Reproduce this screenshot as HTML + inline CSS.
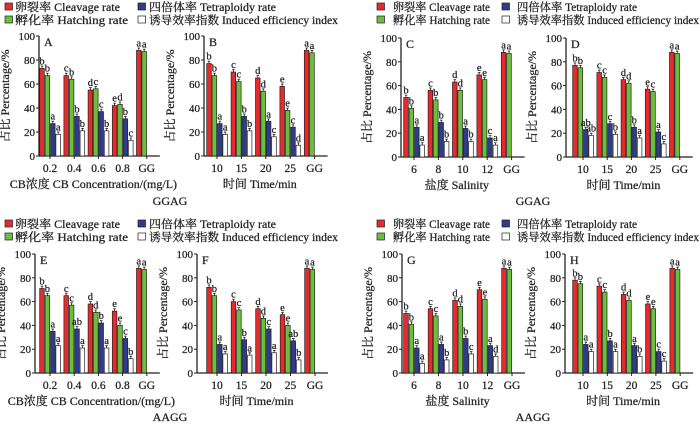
<!DOCTYPE html>
<html><head><meta charset="utf-8"><style>
body{margin:0;background:#fff}
svg{display:block;font-family:"Liberation Serif","Noto Serif CJK SC",serif}
svg text{stroke:#222;stroke-width:0.25px}
</style></head><body>
<svg id="fig" width="700" height="424" viewBox="0 0 700 424" xmlns="http://www.w3.org/2000/svg"></svg>
<script>
// ---- data ----
const seriesNames = ["卵裂率 Cleavage rate","孵化率 Hatching rate","四倍体率 Tetraploidy rate","诱导效率指数 Induced efficiency index"];
const catsCB = ["0.2","0.4","0.6","0.8","GG"];
const catsTime = ["10","15","20","25","GG"];
const catsSal = ["6","8","10","12","GG"];
const yTicks = [0,20,40,60,80,100];

const A_cleav=[73,67,55,42,88], A_hatch=[67,64,56,43,87], A_tetra=[27,33,37,31], A_iei=[18,21,21,13];
const B_cleav=[77,70,65,58,88], B_hatch=[67,62,54,38,86], B_tetra=[27,33,29,24], B_iei=[18,21,16,9];
const C_cleav=[50,56,63,69,88], C_hatch=[41,48,56,65,87], C_tetra=[25,29,24,16], C_iei=[10,13,13,10];
const D_cleav=[77,71,65,57,88], D_hatch=[75,67,62,55,87], D_tetra=[23,28,25,21], D_iei=[18,19,16,11];
const E_cleav=[71,65,58,52,88], E_hatch=[65,57,51,40,87], E_tetra=[35,37,42,29], E_iei=[23,21,21,12];
const F_cleav=[72,60,54,49,88], F_hatch=[65,53,46,40,87], F_tetra=[24,28,37,27], F_iei=[16,15,17,11];
const G_cleav=[50,54,61,70,88], G_hatch=[41,48,56,62,87], G_tetra=[21,24,29,23], G_iei=[8,11,16,14];
const H_cleav=[78,73,66,58,88], H_hatch=[75,68,61,54,87], H_tetra=[24,27,23,18], H_iei=[18,18,14,10];

const A_let=[["b","c","d","e","a"],["b","b","c","d","a"],["a","b","c","b"],["a","b","b","c"]];
const B_let=[["b","c","d","e","a"],["b","c","d","e","a"],["a","b","a","c"],["a","b","c","d"]];
const C_let=[["b","c","d","e","a"],["b","b","d","e","a"],["a","b","a","c"],["a","b","b","a"]];
const D_let=[["b","c","d","e","a"],["b","c","d","c","a"],["ab","c","b","a"],["ab","b","a","c"]];
const E_let=[["b","c","d","e","a"],["b","c","d","e","a"],["a","ab","b","c"],["a","a","a","b"]];
const F_let=[["b","c","d","e","a"],["b","c","d","e","a"],["a","b","c","ab"],["a","a","a","b"]];
const G_let=[["b","c","d","e","a"],["b","c","d","e","a"],["a","a","b","a"],["a","b","c","d"]];
const H_let=[["b","c","d","e","a"],["b","c","d","e","a"],["a","b","a","c"],["a","a","b","c"]];

const colors=["#e82a2c","#6cbf3c","#2f3c8e","#ffffff"];
const NS="http://www.w3.org/2000/svg";
const svg=document.getElementById("fig");
function mk(tag,attrs,parent){const e=document.createElementNS(NS,tag);for(const k in attrs)e.setAttribute(k,attrs[k]);(parent||svg).appendChild(e);return e;}
function txt(s,attrs,parent){const e=mk("text",attrs,parent);e.textContent=s;return e;}

const panels=[
 {id:"A",ax:39,c0:50,st:24.2,top:36,bot:156,cats:catsCB,xt:"CB浓度 CB Concentration/(mg/L)",s:[A_cleav,A_hatch,A_tetra,A_iei],l:A_let},
 {id:"B",ax:204,c0:217,st:24.4,top:36,bot:156,cats:catsTime,xt:"时间 Time/min",s:[B_cleav,B_hatch,B_tetra,B_iei],l:B_let},
 {id:"C",ax:401,c0:414,st:24.4,top:38,bot:157,cats:catsSal,xt:"盐度 Salinity",s:[C_cleav,C_hatch,C_tetra,C_iei],l:C_let},
 {id:"D",ax:566,c0:583,st:24.2,top:38,bot:157,cats:catsTime,xt:"时间 Time/min",s:[D_cleav,D_hatch,D_tetra,D_iei],l:D_let},
 {id:"E",ax:35,c0:50,st:24.2,top:254,bot:373,cats:catsCB,xt:"CB浓度 CB Concentration/(mg/L)",s:[E_cleav,E_hatch,E_tetra,E_iei],l:E_let},
 {id:"F",ax:197,c0:217,st:24.5,top:254,bot:373,cats:catsTime,xt:"时间 Time/min",s:[F_cleav,F_hatch,F_tetra,F_iei],l:F_let},
 {id:"G",ax:402,c0:414,st:24.5,top:254,bot:373,cats:catsSal,xt:"盐度 Salinity",s:[G_cleav,G_hatch,G_tetra,G_iei],l:G_let},
 {id:"H",ax:565,c0:583,st:24.3,top:254,bot:373,cats:catsTime,xt:"时间 Time/min",s:[H_cleav,H_hatch,H_tetra,H_iei],l:H_let}
];
const offs=[-8,-2.6,2.8,8.2], bw=4.6;

panels.forEach(p=>{
  const g=mk("g",{});
  
  
  const y=v=>p.bot-(p.bot-p.top)*v/100;
  const x=i=>p.c0+p.st*i;
  const xEnd=x(4)+13;
  const ya=mk("line",{x1:p.ax,y1:p.top,x2:p.ax,y2:p.bot,stroke:"#222","stroke-width":1.3},g);
  
  
  const xa=mk("line",{x1:p.ax,y1:p.bot,x2:xEnd,y2:p.bot,stroke:"#222","stroke-width":1.3},g);
  
  
  yTicks.forEach(t=>{
    mk("line",{x1:p.ax-3,y1:y(t),x2:p.ax,y2:y(t),stroke:"#222","stroke-width":1},g);
    const tl=txt(String(t),{x:p.ax-4,y:y(t)+4,"font-size":11,"text-anchor":"end",fill:"#222"},g);
    
    
  });
  p.cats.forEach((c,i)=>{
    mk("line",{x1:x(i),y1:p.bot,x2:x(i),y2:p.bot+3,stroke:"#222","stroke-width":1},g);
    const tl=txt(c,{x:x(i),y:p.bot+16,"font-size":11.5,"text-anchor":"middle",fill:"#222"},g);
    
    
  });
  const lt=txt(p.id,{x:p.ax+5,y:p.top+10,"font-size":12,fill:"#222"},g);
  
  
  const xt=txt(p.xt,{x:(p.ax+xEnd)/2-6,y:p.bot+32,"font-size":12,"text-anchor":"middle",fill:"#222"},g);
  
  
  const yx=p.ax-30, yc=(p.top+p.bot)/2;
  const yt=txt("占比 Percentage/%",{x:yx,y:yc,"font-size":12,"text-anchor":"middle",fill:"#222",transform:`rotate(-90 ${yx} ${yc})`},g);
  
  
  p.s.forEach((arr,si)=>{
    arr.forEach((v,i)=>{
      const cx=x(i)+offs[si];
      const r=mk("rect",{x:cx-bw/2,y:y(v),width:bw,height:p.bot-y(v),fill:colors[si],stroke:"#222","stroke-width":0.7},g);
      
      
      mk("line",{x1:cx,y1:y(v),x2:cx,y2:y(v+2),stroke:"#222","stroke-width":0.8},g);
      mk("line",{x1:cx-1.3,y1:y(v+2),x2:cx+1.3,y2:y(v+2),stroke:"#222","stroke-width":0.8},g);
      const lb=txt(p.l[si][i],{x:cx,y:y(v+2)-1.5,"font-size":10.5,"text-anchor":"middle",fill:"#222"},g);
      
      
    });
  });
});

// legends: [swatchX col1, y, textX col1, swatchX col2, textX col2, text widths]
const legendPos=[
 [5,1,15,138,149,[105,113,127,189]],
 [377,1,393,502,517,[97,97,120,182]],
 [5,218,15,138,149,[105,113,127,189]],
 [377,218,393,502,517,[97,97,120,182]]
];
legendPos.forEach(lp=>{
  const [s1,by,t1,s2,t2,w]=lp;
  const lg=mk("g",{});
  
  
  seriesNames.forEach((n,si)=>{
    const sx=si>=2?s2:s1, tx=si>=2?t2:t1, ey=by+(si%2===0?0:13);
    const e=mk("g",{},lg);
    
    
    mk("rect",{x:sx,y:ey+2,width:7.5,height:7,fill:colors[si],stroke:"#222","stroke-width":0.7},e);
    txt(n,{x:tx,y:ey+10,"font-size":11.5,fill:"#222",textLength:w[si],lengthAdjust:"spacingAndGlyphs"},e);
  });
});
[["GGAG",170,205],["GGAG",533,205],["AAGG",170,421],["AAGG",533,421]].forEach(a=>{
  const t=txt(a[0],{x:a[1],y:a[2],"font-size":12,"text-anchor":"middle",fill:"#222"});
  
  
});
</script>
</body></html>
